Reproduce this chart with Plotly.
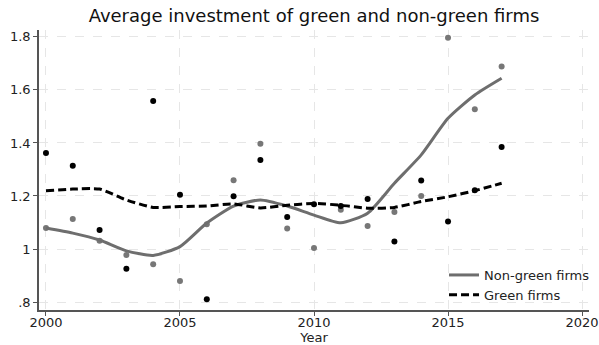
import plotly.graph_objects as go

# Yearly averages and smoothed fits
years = list(range(2000, 2018))
nongreen_avg = [1.079, 1.113, 1.031, 0.977, 0.943, 0.879, 1.093, 1.259, 1.397, 1.077,
                1.004, 1.148, 1.087, 1.140, 1.200, 1.797, 1.527, 1.688]
green_avg = [1.362, 1.314, 1.072, 0.926, 1.558, 1.205, 0.811, 1.199, 1.336, 1.121,
             1.169, 1.162, 1.189, 1.028, 1.258, 1.104, 1.222, 1.385]
nongreen_fit = [1.079, 1.060, 1.034, 0.993, 0.976, 1.009, 1.098, 1.162, 1.185, 1.162,
                1.128, 1.099, 1.135, 1.248, 1.355, 1.493, 1.581, 1.644]
green_fit = [1.220, 1.226, 1.226, 1.185, 1.157, 1.160, 1.162, 1.170, 1.155, 1.165,
             1.172, 1.165, 1.154, 1.157, 1.179, 1.197, 1.220, 1.248]

y_ticks = [0.8, 1.0, 1.2, 1.4, 1.6, 1.8]
y_labels = [".8", "1", "1.2", "1.4", "1.6", "1.8"]
x_ticks = [2000, 2005, 2010, 2015, 2020]

GRAY = "#6e6e6e"
GRAY_PT = "#777777"
FONT = "DejaVu Sans"

fig = go.Figure()
fig.add_trace(go.Scatter(x=years, y=nongreen_avg, mode="markers",
                         marker=dict(color=GRAY_PT, size=6), showlegend=False))
fig.add_trace(go.Scatter(x=years, y=green_avg, mode="markers",
                         marker=dict(color="black", size=6), showlegend=False))
fig.add_trace(go.Scatter(x=years, y=nongreen_fit, mode="lines", name="Non-green firms",
                         line=dict(color=GRAY, width=3, shape="spline", smoothing=0.6)))
fig.add_trace(go.Scatter(x=years, y=green_fit, mode="lines", name="Green firms",
                         line=dict(color="black", width=3, dash="8px,4px",
                                   shape="spline", smoothing=0.6)))

fig.update_layout(
    width=599, height=345,
    # fixed margins: the legend sits near the right edge and must not shrink the plot
    margin=dict(l=39, r=10, t=30, b=35, autoexpand=False),
    paper_bgcolor="white", plot_bgcolor="white",
    font=dict(family=FONT, size=13, color="#222222"),
    title=dict(text="Average investment of green and non-green firms",
               x=0.5, xref="paper", xanchor="center",
               y=1 - 16 / 345, yref="container", yanchor="middle",
               font=dict(size=18, color="#111111")),
    legend=dict(x=0.7364, xanchor="left", y=0.0, yanchor="bottom",
                bgcolor="rgba(0,0,0,0)", font=dict(size=13),
                itemwidth=30, tracegroupgap=0),
    xaxis=dict(range=[1999.74, 2020.26], tickvals=x_ticks, automargin=False,
               showline=True, linecolor="#555555", linewidth=1.5,
               ticks="outside", ticklen=4, tickcolor="#555555",
               ticklabelstandoff=-4,
               showgrid=True, gridcolor="#e6e6e6", griddash="dash", gridwidth=1,
               zeroline=False,
               title=dict(text="Year", font=dict(size=13), standoff=11)),
    yaxis=dict(range=[0.77, 1.826], tickvals=y_ticks, ticktext=y_labels,
               automargin=False,
               showline=True, linecolor="#555555", linewidth=1.5,
               ticks="outside", ticklen=4, tickcolor="#555555",
               showgrid=True, gridcolor="#e6e6e6", griddash="dash", gridwidth=1,
               zeroline=False),
)

fig.write_html("out.html")
